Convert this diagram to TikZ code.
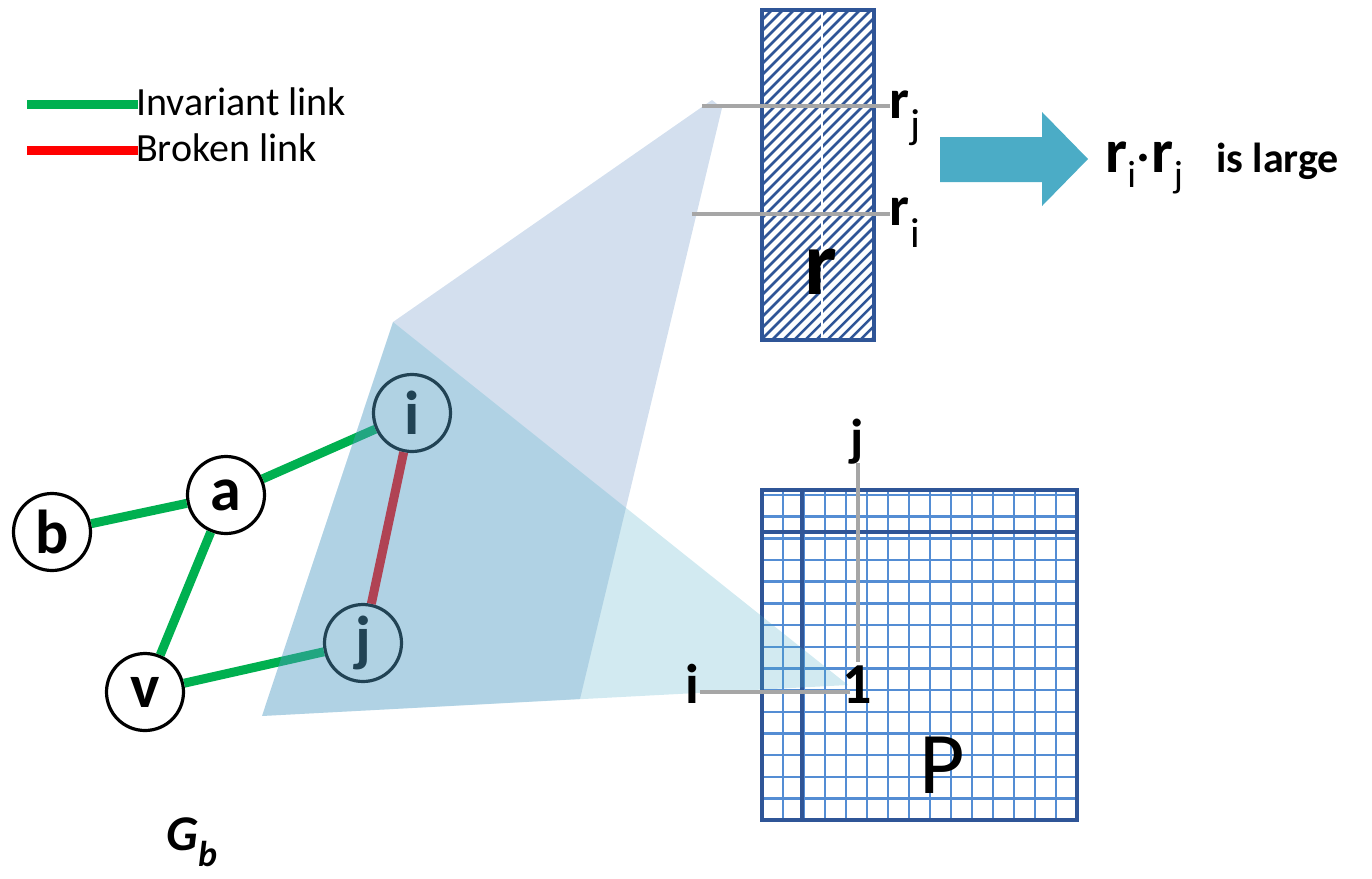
\documentclass[tikz,border=0pt]{standalone}
\usepackage{fontspec}
\setmainfont{Carlito}
\newcommand{\fsz}[1]{\fontsize{#1}{#1}\selectfont}
\definecolor{lgreen}{RGB}{0,176,80}
\definecolor{lred}{RGB}{255,0,0}
\definecolor{boxblue}{RGB}{47,85,151}
\definecolor{gridblue}{RGB}{84,141,212}
\definecolor{greyline}{RGB}{166,166,166}
\definecolor{arrowteal}{RGB}{75,172,198}
\definecolor{ovA}{RGB}{79,129,189}
\definecolor{ovB}{RGB}{75,172,198}
\begin{document}
\begin{tikzpicture}[x=1pt,y=-1pt,
  gnode/.style={circle,draw=black,line width=3.2pt,fill=white,minimum size=77pt,inner sep=0pt,font=\fsz{62}\bfseries},
  inv/.style={draw=lgreen,line width=9pt},
  brk/.style={draw=lred,line width=9pt},
  lbl/.style={inner sep=0pt,text=black},
  gry/.style={draw=greyline,line width=4.5pt},
  gridthin/.style={draw=gridblue,line width=2.4pt},
  gridthick/.style={draw=boxblue,line width=4pt},
  hatchline/.style={draw=boxblue,line width=2.5pt},
]
\useasboundingbox (0,0) rectangle (1372,878);

% legend
\coordinate (l1a) at (27,104); \coordinate (l1b) at (138,104);
\coordinate (l2a) at (27,150); \coordinate (l2b) at (138,150);
\draw[inv] (l1a) -- (l1b);
\draw[brk] (l2a) -- (l2b);
\node[lbl,anchor=base west,font=\fsz{40}] (tinv) at (136,115) {Invariant link};
\node[lbl,anchor=base west,font=\fsz{40}] (tbrk) at (136,161) {Broken link};

% graph
\node[gnode] (b) at (52,532) {b};
\node[gnode] (a) at (226,495) {a};
\node[gnode] (i) at (412,413) {i};
\node[gnode] (j) at (363,643) {j};
\node[gnode] (v) at (145,692) {v};
\draw[inv] (b) -- (a);
\draw[inv] (a) -- (i);
\draw[inv] (a) -- (v);
\draw[inv] (v) -- (j);
\draw[brk] (i) -- (j);

% P grid
\foreach \k in {1,...,14} \draw[gridthin] ({762+21*\k},490) -- ({762+21*\k},820);
\foreach \k in {0,...,14} \draw[gridthin] (762,{495+21.67*\k}) -- (1077,{495+21.67*\k});
\draw[gridthick] (802,490) -- (802,820);
\draw[gridthick] (762,532) -- (1077,532);
\node[draw=boxblue,line width=4pt,minimum width=315pt,minimum height=330pt,inner sep=0pt] (P) at (919.5,655) {};

% r box
\fill[white] (762,10) rectangle (874,340);
\begin{scope}
  \clip (762,10) rectangle (874,340);
  \foreach \x in {420,431,...,890} \draw[hatchline] (\x,340) -- ({\x+330},10);
  \draw[white,line width=1.5pt] (822,10) -- (822,340);
\end{scope}
\node[draw=boxblue,line width=4pt,minimum width=112pt,minimum height=330pt,inner sep=0pt] (rbox) at (818,175) {};
\node[lbl,anchor=base,font=\fsz{92}\bfseries] (rbig) at (821,294) {r};

% translucent projections
\fill[ovA,fill opacity=0.25] (393,322) -- (712,100) -- (722,108) -- (580,699) -- (262,716) -- cycle;
\fill[ovB,fill opacity=0.25] (393,322) -- (848,685) -- (262,716) -- cycle;

% r_j, r_i
\node[lbl,anchor=base west] (rj) at (889,118) {\fsz{56}\bfseries r\kern1pt\raisebox{-20pt}{\fsz{42}\mdseries j}};
\node[lbl,anchor=base west] (ri) at (889,225) {\fsz{56}\bfseries r\kern1pt\raisebox{-22pt}{\fsz{42}\mdseries i}};
\coordinate (rjs) at (702,106); \coordinate (rje) at (890,106);
\coordinate (ris) at (692,214); \coordinate (rie) at (890,214);
\draw[gry] (rjs) -- (rje);
\draw[gry] (ris) -- (rie);

% arrow
\fill[arrowteal] (940,137) -- (1042,137) -- (1042,112) -- (1088,159) -- (1042,206) -- (1042,182) -- (940,182) -- cycle;
\node[lbl,anchor=base west] (rirj) at (1105,172) {\fsz{62}\bfseries r\raisebox{-15pt}{\fsz{38}\mdseries i}\kern1pt\raisebox{11pt}{\fsz{52}\bfseries .}\kern1pt r\raisebox{-15pt}{\fsz{38}\mdseries j}};
\node[lbl,anchor=base west,font=\fsz{42}\bfseries] (large) at (1216,172) {is large};

% P labels
\node[lbl,anchor=base,font=\fsz{52}\bfseries] (pj) at (857,455) {j};
\node[lbl,anchor=base,font=\fsz{58}\bfseries] (one) at (857,703) {1};
\node[lbl,anchor=base,font=\fsz{56}\bfseries] (pi) at (692,703) {i};
\coordinate (pvs) at (858,463); \coordinate (pve) at (858,662);
\coordinate (phs) at (700,692); \coordinate (phe) at (850,692);
\draw[gry] (pvs) -- (pve);
\draw[gry] (phs) -- (phe);
\node[lbl,anchor=base,font=\fsz{88}] (Plbl) at (942,793) {P};

% G_b
\node[lbl,anchor=base west] (Gb) at (166,850) {\fsz{50}\bfseries\itshape G\raisebox{-16pt}{\fsz{36}b}};
\end{tikzpicture}
\end{document}
